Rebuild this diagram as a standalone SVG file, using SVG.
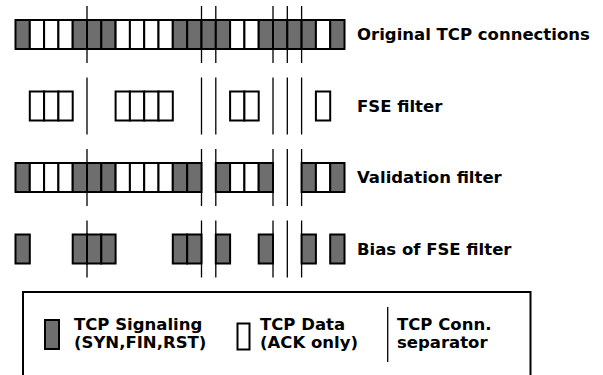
<svg xmlns="http://www.w3.org/2000/svg" width="603" height="375" viewBox="0 0 603 375">
<style>
.g{fill:#6e6e6e;stroke:#000;stroke-width:2}
.w{fill:#fff;stroke:#000;stroke-width:2}
.sep{stroke:#000;stroke-width:1.3;fill:none}
text{font-family:"DejaVu Sans","Liberation Sans",sans-serif;font-weight:bold;font-size:16.5px;fill:#000}
</style>
<rect width="603" height="375" fill="#fff"/>
<g id="separators">
<path class="sep" d="M87,6V63M201.5,6V63M215.8,6V63M273,6V63M287.3,6V63M301.6,6V63"/>
<path class="sep" d="M87,77.5V134.5M201.5,77.5V134.5M215.8,77.5V134.5M273,77.5V134.5M287.3,77.5V134.5M301.6,77.5V134.5"/>
<path class="sep" d="M87,149V206M201.5,149V206M215.8,149V206M273,149V206M287.3,149V206M301.6,149V206"/>
<path class="sep" d="M87,220.5V277.5M201.5,220.5V277.5M215.8,220.5V277.5M273,220.5V277.5M287.3,220.5V277.5M301.6,220.5V277.5"/>
</g>
<g id="row-original">
<rect class="g" x="15.5" y="20" width="14.3" height="29"/>
<rect class="w" x="29.8" y="20" width="14.3" height="29"/>
<rect class="w" x="44.1" y="20" width="14.3" height="29"/>
<rect class="w" x="58.4" y="20" width="14.3" height="29"/>
<rect class="g" x="72.7" y="20" width="14.3" height="29"/>
<rect class="g" x="87" y="20" width="14.3" height="29"/>
<rect class="g" x="101.3" y="20" width="14.3" height="29"/>
<rect class="w" x="115.6" y="20" width="14.3" height="29"/>
<rect class="w" x="129.9" y="20" width="14.3" height="29"/>
<rect class="w" x="144.2" y="20" width="14.3" height="29"/>
<rect class="w" x="158.5" y="20" width="14.3" height="29"/>
<rect class="g" x="172.8" y="20" width="14.3" height="29"/>
<rect class="g" x="187.2" y="20" width="14.3" height="29"/>
<rect class="g" x="201.5" y="20" width="14.3" height="29"/>
<rect class="g" x="215.8" y="20" width="14.3" height="29"/>
<rect class="w" x="230.1" y="20" width="14.3" height="29"/>
<rect class="w" x="244.4" y="20" width="14.3" height="29"/>
<rect class="g" x="258.7" y="20" width="14.3" height="29"/>
<rect class="g" x="273" y="20" width="14.3" height="29"/>
<rect class="g" x="287.3" y="20" width="14.3" height="29"/>
<rect class="g" x="301.6" y="20" width="14.3" height="29"/>
<rect class="w" x="315.9" y="20" width="14.3" height="29"/>
<rect class="g" x="330.2" y="20" width="14.3" height="29"/>
<text x="357" y="40">Original TCP connections</text>
</g>
<g id="row-fse">
<rect class="w" x="29.8" y="91.5" width="14.3" height="29"/>
<rect class="w" x="44.1" y="91.5" width="14.3" height="29"/>
<rect class="w" x="58.4" y="91.5" width="14.3" height="29"/>
<rect class="w" x="115.6" y="91.5" width="14.3" height="29"/>
<rect class="w" x="129.9" y="91.5" width="14.3" height="29"/>
<rect class="w" x="144.2" y="91.5" width="14.3" height="29"/>
<rect class="w" x="158.5" y="91.5" width="14.3" height="29"/>
<rect class="w" x="230.1" y="91.5" width="14.3" height="29"/>
<rect class="w" x="244.4" y="91.5" width="14.3" height="29"/>
<rect class="w" x="315.9" y="91.5" width="14.3" height="29"/>
<text x="357" y="111.5">FSE filter</text>
</g>
<g id="row-validation">
<rect class="g" x="15.5" y="163" width="14.3" height="29"/>
<rect class="w" x="29.8" y="163" width="14.3" height="29"/>
<rect class="w" x="44.1" y="163" width="14.3" height="29"/>
<rect class="w" x="58.4" y="163" width="14.3" height="29"/>
<rect class="g" x="72.7" y="163" width="14.3" height="29"/>
<rect class="g" x="87" y="163" width="14.3" height="29"/>
<rect class="g" x="101.3" y="163" width="14.3" height="29"/>
<rect class="w" x="115.6" y="163" width="14.3" height="29"/>
<rect class="w" x="129.9" y="163" width="14.3" height="29"/>
<rect class="w" x="144.2" y="163" width="14.3" height="29"/>
<rect class="w" x="158.5" y="163" width="14.3" height="29"/>
<rect class="g" x="172.8" y="163" width="14.3" height="29"/>
<rect class="g" x="187.2" y="163" width="14.3" height="29"/>
<rect class="g" x="215.8" y="163" width="14.3" height="29"/>
<rect class="w" x="230.1" y="163" width="14.3" height="29"/>
<rect class="w" x="244.4" y="163" width="14.3" height="29"/>
<rect class="g" x="258.7" y="163" width="14.3" height="29"/>
<rect class="g" x="301.6" y="163" width="14.3" height="29"/>
<rect class="w" x="315.9" y="163" width="14.3" height="29"/>
<rect class="g" x="330.2" y="163" width="14.3" height="29"/>
<text x="357" y="183">Validation filter</text>
</g>
<g id="row-bias">
<rect class="g" x="15.5" y="234.5" width="14.3" height="29"/>
<rect class="g" x="72.7" y="234.5" width="14.3" height="29"/>
<rect class="g" x="87" y="234.5" width="14.3" height="29"/>
<rect class="g" x="101.3" y="234.5" width="14.3" height="29"/>
<rect class="g" x="172.8" y="234.5" width="14.3" height="29"/>
<rect class="g" x="187.2" y="234.5" width="14.3" height="29"/>
<rect class="g" x="215.8" y="234.5" width="14.3" height="29"/>
<rect class="g" x="258.7" y="234.5" width="14.3" height="29"/>
<rect class="g" x="301.6" y="234.5" width="14.3" height="29"/>
<rect class="g" x="330.2" y="234.5" width="14.3" height="29"/>
<text x="357" y="254.5">Bias of FSE filter</text>
</g>
<g id="legend">
<rect x="23" y="292" width="507.5" height="100" fill="#fff" stroke="#000" stroke-width="2"/>
<rect class="g" x="45" y="320" width="14" height="29"/>
<text x="74" y="330">TCP Signaling</text>
<text x="74" y="347.5">(SYN,FIN,RST)</text>
<rect class="w" x="237.5" y="323.5" width="12" height="26"/>
<text x="260" y="330">TCP Data</text>
<text x="260" y="347.5">(ACK only)</text>
<path class="sep" d="M387.7,307V362"/>
<text x="397" y="330">TCP Conn.</text>
<text x="397" y="347.5">separator</text>
</g>
</svg>
